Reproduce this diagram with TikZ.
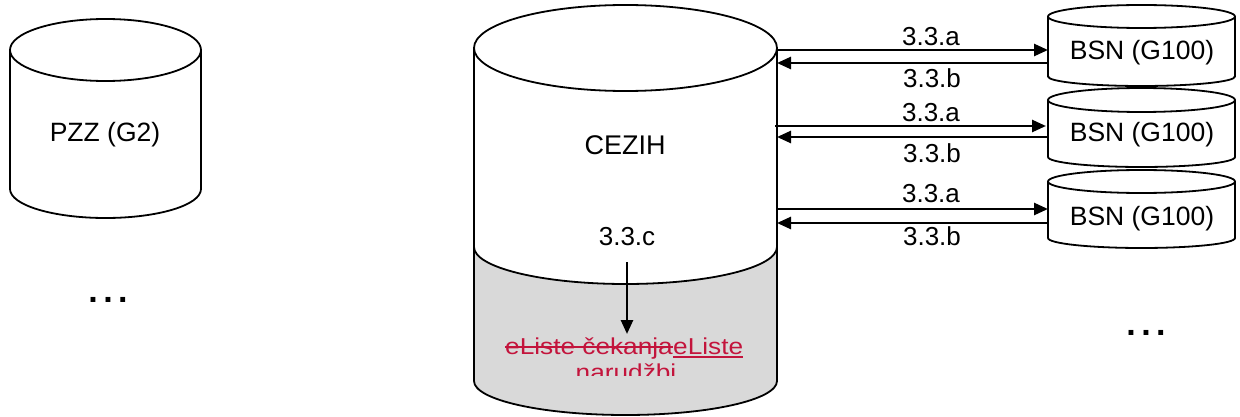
\documentclass[tikz,border=0pt]{standalone}
\usepackage{fontspec}
\setmainfont{Liberation Sans}
\newfontfamily\redfont[FakeStretch=1.14]{Liberation Sans}
\usetikzlibrary{arrows.meta,calc}
\definecolor{trackred}{RGB}{195,20,60}
\definecolor{lowgray}{RGB}{217,217,217}
\tikzset{
  cyl/.style={line width=1.8pt, line join=round},
  lbl/.style={inner sep=0pt, anchor=base, font=\fontsize{26}{30}\selectfont},
  big/.style={font=\fontsize{26.5}{30}\selectfont},
  dots/.style={font=\fontsize{34}{36}\selectfont\bfseries},
  redtxt/.style={inner sep=0pt, text=trackred, font=\redfont\fontsize{23}{26}\selectfont},
  redline/.style={draw=trackred, line width=1.6pt},
  flow/.style={line width=2.6pt, -{Triangle[length=14pt,width=12pt]}},
}
% x1, x2, top-centre y, top ry, bottom-centre y, bottom ry
\newcommand\drawcyl[6]{%
  \pgfmathsetmacro\cylrx{(#2-#1)/2}%
  \draw[cyl] (#1,#3) -- (#1,#5) arc[start angle=180,end angle=360,x radius=\cylrx pt,y radius=#6pt] -- (#2,#3);
  \draw[cyl] ({(#1+#2)/2},#3) ellipse [x radius=\cylrx pt, y radius=#4pt];
}
\newcommand\threedots{.\hspace{5.5pt}.\hspace{5.5pt}.}
\begin{document}
\begin{tikzpicture}[x=1pt,y=-1pt]
\useasboundingbox (0,0) rectangle (1240,417);
% PZZ
\drawcyl{10}{201}{50}{31}{189}{29}
\node[lbl, big] (pzz) at (105,142) {PZZ (G2)};
\node[lbl, dots] (dotsl) at (108,302) {\threedots};
% CEZIH gray lower part
\fill[lowgray] (474,247) arc[start angle=180,end angle=360,x radius=151.5pt,y radius=37pt]
  -- (777,381) arc[start angle=0,end angle=-180,x radius=151.5pt,y radius=34pt] -- cycle;
\draw[cyl] (474,247) arc[start angle=180,end angle=360,x radius=151.5pt,y radius=37pt];
\drawcyl{474}{777}{48}{43}{381}{34}
\node[lbl, font=\fontsize{27}{30}\selectfont] (cezih) at (625,154) {CEZIH};
\node[lbl] (c33) at (627,245) {3.3.c};
\begin{scope}
  \clip (474,300) rectangle (777,375);
  \node[redtxt, anchor=base west] (red1a) at (505,354) {eListe čekanja};
  \node[redtxt, anchor=base west] (red1b) at (red1a.base east) {eListe};
  \node[redtxt, anchor=base] (red2) at (626,380) {narudžbi};
  \draw[redline] ($(red1a.base west)+(0,-7)$) -- ($(red1a.base east)+(0,-7)$);
  \draw[redline] ($(red1b.base west)+(0,3)$) -- ($(red1b.base east)+(0,3)$);
\end{scope}
\coordinate (c33s) at (627,262);
\coordinate (red1n) at (627,334);
\draw[flow] (c33s) -- (red1n);
% BSN cylinders
\drawcyl{1048}{1235}{16.5}{11.5}{76.5}{9.5}
\drawcyl{1048}{1235}{100}{12}{157}{10}
\drawcyl{1048}{1235}{181.5}{11.5}{238}{10}
\node[lbl, big] (bsn1) at (1142,60) {BSN (G100)};
\node[lbl, big] (bsn2) at (1142,141.5) {BSN (G100)};
\node[lbl, big] (bsn3) at (1142,225) {BSN (G100)};
\node[lbl, dots] (dotsr) at (1146,335) {\threedots};
% connector end points
\coordinate (cz1a) at (777,50);   \coordinate (b1a) at (1048,50);
\coordinate (cz1b) at (777,63);   \coordinate (b1b) at (1048,63);
\coordinate (cz2a) at (775,126);  \coordinate (b2a) at (1046,126);
\coordinate (cz2b) at (777,137);  \coordinate (b2b) at (1048,137);
\coordinate (cz3a) at (777,209);  \coordinate (b3a) at (1048,209);
\coordinate (cz3b) at (777,223);  \coordinate (b3b) at (1048,223);
\draw[flow] (cz1a) -- (b1a);
\draw[flow] (b1b) -- (cz1b);
\draw[flow] (cz2a) -- (b2a);
\draw[flow] (b2b) -- (cz2b);
\draw[flow] (cz3a) -- (b3a);
\draw[flow] (b3b) -- (cz3b);
\node[lbl] (l1a) at (931,46) {3.3.a};
\node[lbl] (l1b) at (932,88) {3.3.b};
\node[lbl] (l2a) at (931,122) {3.3.a};
\node[lbl] (l2b) at (932,163) {3.3.b};
\node[lbl] (l3a) at (931,202) {3.3.a};
\node[lbl] (l3b) at (932,245) {3.3.b};
\end{tikzpicture}
\end{document}
